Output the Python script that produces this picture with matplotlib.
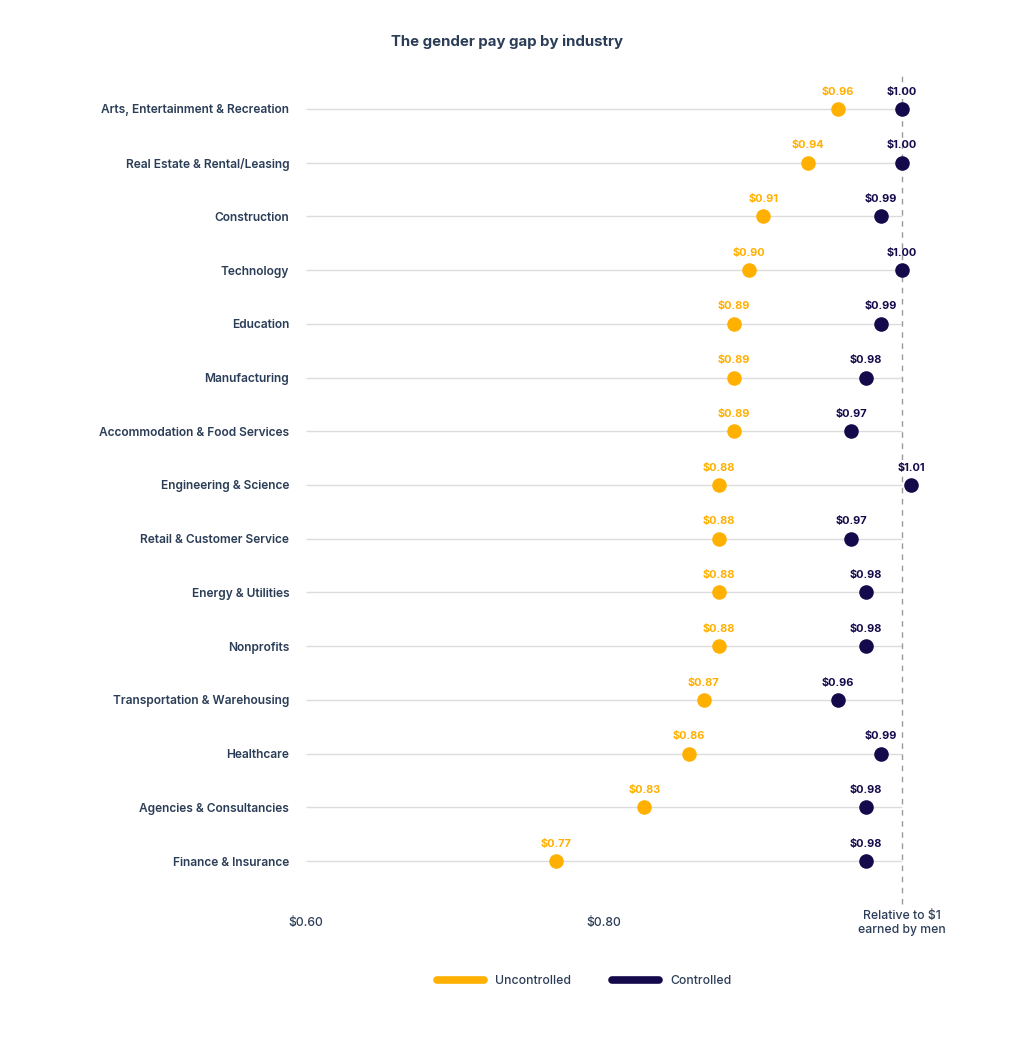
import matplotlib
matplotlib.use("Agg")
import matplotlib.pyplot as plt
from matplotlib.lines import Line2D

plt.rcParams['font.family'] = ['Inter', 'DejaVu Sans']

industries = [
    "Arts, Entertainment & Recreation",
    "Real Estate & Rental/Leasing",
    "Construction",
    "Technology",
    "Education",
    "Manufacturing",
    "Accommodation & Food Services",
    "Engineering & Science",
    "Retail & Customer Service",
    "Energy & Utilities",
    "Nonprofits",
    "Transportation & Warehousing",
    "Healthcare",
    "Agencies & Consultancies",
    "Finance & Insurance",
]
uncontrolled = [0.957, 0.937, 0.907, 0.897, 0.887, 0.887, 0.887, 0.877,
                0.877, 0.877, 0.877, 0.867, 0.857, 0.827, 0.768]
controlled = [1.000, 1.000, 0.986, 1.000, 0.986, 0.976, 0.966, 1.006,
              0.966, 0.976, 0.976, 0.957, 0.986, 0.976, 0.976]
tick_values = [0.60, 0.80, 1.00]
tick_labels = ["$0.60", "$0.80", "Relative to $1\nearned by men"]

ORANGE = "#FFB000"
NAVY = "#140A4B"
TEXT = "#2B3D57"
GRID = "#DCDCDC"

W, H = 1024, 1037
fig = plt.figure(figsize=(W / 100, H / 100), dpi=100)
left, right, top, bottom = 306, 930, 82, 888
ax = fig.add_axes([left / W, 1 - bottom / H, (right - left) / W, (bottom - top) / H])

xmin = 0.60
xmax = xmin + (right - left) / 1490
ax.set_xlim(xmin, xmax)
n = len(industries)
ax.set_ylim(n - 0.5, -0.5)

ys = list(range(n))
ax.hlines(ys, xmin, 1.0, color=GRID, lw=1.0, zorder=1)
ax.axvline(1.0, ymin=-0.02, ymax=1.009, color="#9A9A9A", lw=1.0,
           dashes=(4, 4), clip_on=False, zorder=1)

ax.scatter(uncontrolled, ys, s=110, color=ORANGE, zorder=3, linewidths=0)
ax.scatter(controlled, ys, s=110, color=NAVY, zorder=3, linewidths=0)

for y, u, c in zip(ys, uncontrolled, controlled):
    ax.annotate(f"${u:.2f}", (u, y), xytext=(0, 12.5), textcoords="offset points",
                ha="center", va="center", fontsize=7.9, fontweight="bold", color=ORANGE)
    ax.annotate(f"${c:.2f}", (c, y), xytext=(0, 12.5), textcoords="offset points",
                ha="center", va="center", fontsize=7.9, fontweight="bold", color=NAVY)

ax.set_yticks(ys)
ax.set_yticklabels(industries, fontsize=8.6, color=TEXT, fontweight="semibold")
ax.tick_params(axis="y", length=0, pad=12)

ax.set_xticks(tick_values)
ax.set_xticklabels(tick_labels, fontsize=8.8, color=TEXT, linespacing=1.25,
                   fontweight="medium")
for lab in ax.get_xticklabels():
    lab.set_va("center")
ax.tick_params(axis="x", length=0, pad=25)

for s in ax.spines.values():
    s.set_visible(False)

fig.text(507 / W, 1 - 42 / H, "The gender pay gap by industry", ha="center", va="center",
         fontsize=10.8, fontweight="bold", color=TEXT)

handles = [
    Line2D([0], [0], color=ORANGE, lw=5.5, solid_capstyle="round"),
    Line2D([0], [0], color=NAVY, lw=5.5, solid_capstyle="round"),
]
leg = fig.legend(handles, ["Uncontrolled", "Controlled"], loc="center",
                 bbox_to_anchor=(584 / W, 1 - 981 / H), ncol=2, frameon=False,
                 handlelength=3.9, handletextpad=0.9, columnspacing=3.3,
                 prop={"weight": "medium", "size": 8.8})
for t in leg.get_texts():
    t.set_color(TEXT)

fig.savefig("out.png", dpi=100, facecolor="white")
